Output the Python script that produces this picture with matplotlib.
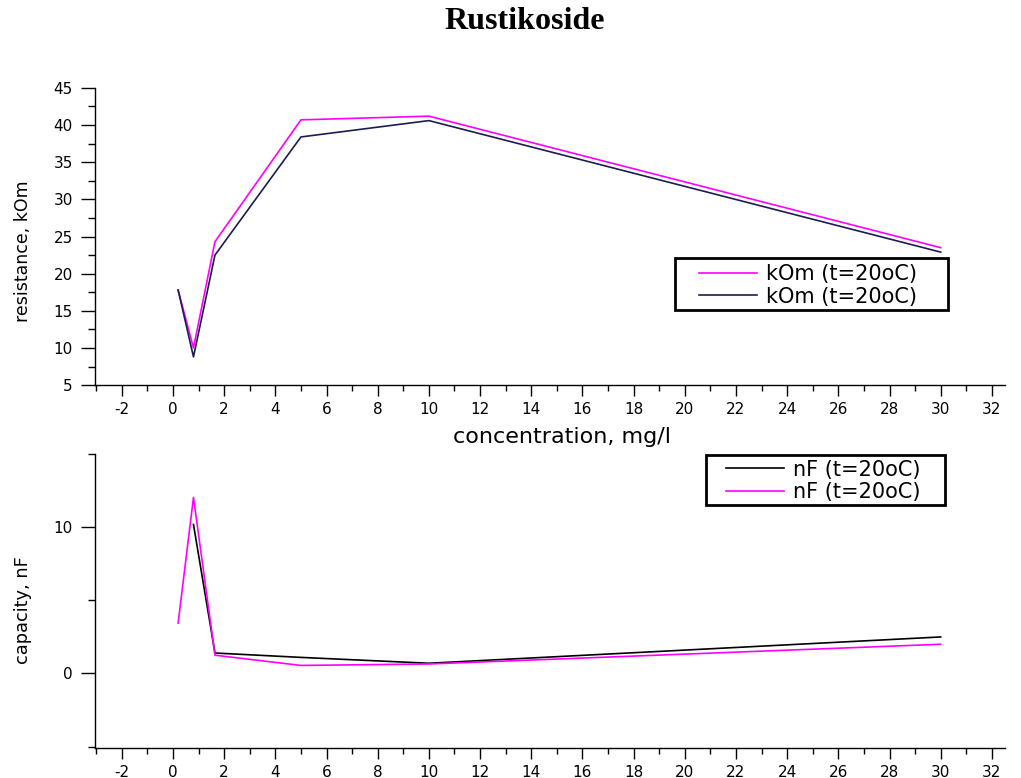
import matplotlib
matplotlib.use("Agg")
import matplotlib.pyplot as plt
from matplotlib.ticker import MultipleLocator
from matplotlib.patches import Rectangle

# Data
conc_r = [0.2, 0.8, 1.64, 5, 10, 30]
res_magenta = [17.8, 10.0, 24.3, 40.7, 41.2, 23.5]
res_navy = [17.8, 8.8, 22.5, 38.4, 40.6, 22.9]

conc_c_magenta = [0.2, 0.8, 1.64, 5, 10, 30]
cap_magenta = [3.45, 12.05, 1.25, 0.55, 0.65, 2.0]
conc_c_black = [0.8, 1.64, 5, 10, 30]
cap_black = [10.2, 1.4, 1.1, 0.7, 2.5]

legend_r = ["kOm (t=20oC)", "kOm (t=20oC)"]
legend_c = ["nF (t=20oC)", "nF (t=20oC)"]

plt.rcParams['font.family'] = ['DejaVu Sans']
plt.rcParams['axes.unicode_minus'] = False

fig = plt.figure(figsize=(10.21, 7.78), dpi=100)
fig.text(0.514, 0.972, "Rustikoside", ha='center', va='center',
         fontsize=23, fontweight='bold', family='Liberation Serif')

ax1 = fig.add_axes([0.093, 0.505, 0.891, 0.382])
ax2 = fig.add_axes([0.093, 0.0386, 0.891, 0.3774])

MAG = '#ff00ff'
NAVY = '#1c1c50'

ax1.plot(conc_r, res_magenta, color=MAG, lw=1.2, label=legend_r[0])
ax1.plot(conc_r, res_navy, color=NAVY, lw=1.2, label=legend_r[1])
ax2.plot(conc_c_black, cap_black, color='black', lw=1.2, label=legend_c[0])
ax2.plot(conc_c_magenta, cap_magenta, color=MAG, lw=1.2, label=legend_c[1])

for ax in (ax1, ax2):
    ax.set_xlim(-3.05, 32.5)
    ax.spines['top'].set_visible(False)
    ax.spines['right'].set_visible(False)
    ax.spines['left'].set_linewidth(1.0)
    ax.spines['bottom'].set_linewidth(1.0)
    ax.xaxis.set_major_locator(MultipleLocator(2))
    ax.xaxis.set_minor_locator(MultipleLocator(1))
    ax.tick_params(which='both', direction='out', width=1, labelsize=11, colors='black')
    ax.tick_params(axis='x', which='major', length=8, pad=4)
    ax.tick_params(axis='x', which='minor', length=4)
    ax.tick_params(axis='y', which='major', length=10, pad=6)
    ax.tick_params(axis='y', which='minor', length=5)

ax1.set_ylim(5, 45)
ax1.yaxis.set_major_locator(MultipleLocator(5))
ax1.yaxis.set_minor_locator(MultipleLocator(2.5))
ax1.set_ylabel("resistance, kOm", fontsize=12.5)
ax1.set_xlabel("concentration, mg/l", fontsize=16)
ax1.xaxis.set_label_coords(0.513, -0.14)

ax2.set_ylim(-5.1, 15)
ax2.yaxis.set_major_locator(MultipleLocator(10))
ax2.yaxis.set_minor_locator(MultipleLocator(5))
ax2.set_ylabel("capacity, nF", fontsize=12.8)

ax1.yaxis.set_label_coords(-0.069, 0.45)
ax2.yaxis.set_label_coords(-0.069, 0.47)

common = dict(fontsize=15, frameon=False, borderpad=0, labelspacing=0.12,
              handlelength=2.8, handletextpad=0.43, borderaxespad=0,
              bbox_transform=fig.transFigure)
ax1.legend(loc='center left', bbox_to_anchor=(0.6846, 0.6333), **common)
ax2.legend(loc='center left', bbox_to_anchor=(0.7111, 0.3817), **common)

# legend frames
fig.patches.append(Rectangle((0.661, 0.6015), 0.2674, 0.0668, transform=fig.transFigure,
                             fill=False, edgecolor='black', linewidth=2))
fig.patches.append(Rectangle((0.6915, 0.3509), 0.234, 0.0643, transform=fig.transFigure,
                             fill=False, edgecolor='black', linewidth=2))

fig.savefig("out.png", dpi=100)
